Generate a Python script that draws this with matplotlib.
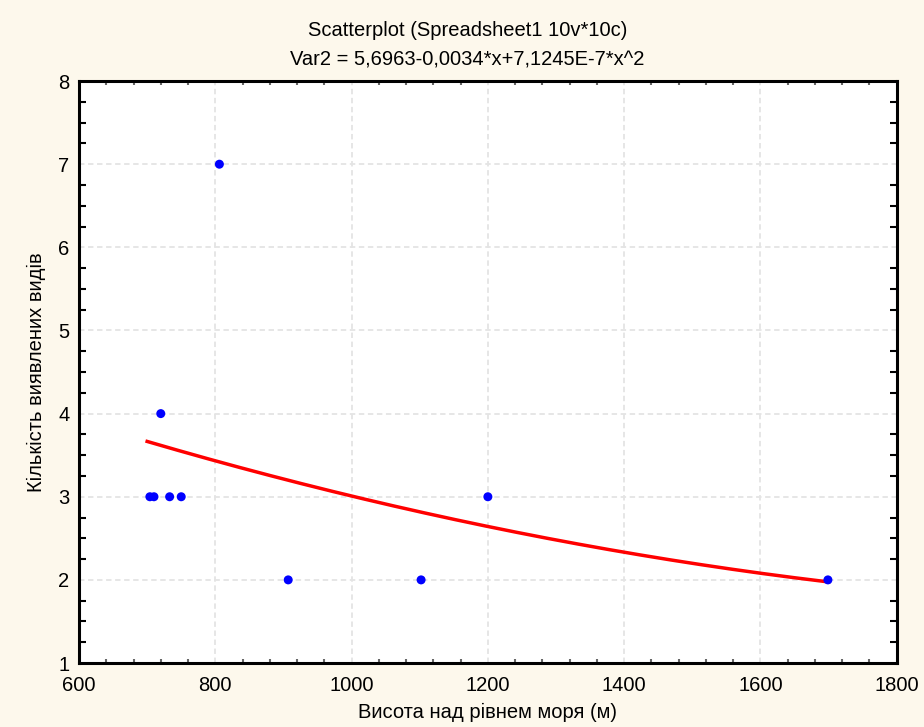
import numpy as np
import matplotlib
matplotlib.use("Agg")
import matplotlib.pyplot as plt
from matplotlib.ticker import MultipleLocator

# ---- data ----
altitude = [704, 710, 720, 733, 750, 806, 907, 1102, 1200, 1699]
species = [3, 3, 4, 3, 3, 7, 2, 2, 3, 2]
fit_coefs = [7.1245e-7, -0.0034, 5.6963]  # Var2 = 5,6963-0,0034*x+7,1245E-7*x^2
fit_range = [700, 1700]
title_lines = ["Scatterplot (Spreadsheet1 10v*10c)", "Var2 = 5,6963-0,0034*x+7,1245E-7*x^2"]
x_label = "Висота над рівнем моря (м)"
y_label = "Кількість виявлених видів"

plt.rcParams["font.family"] = ["Liberation Sans", "DejaVu Sans"]

fig = plt.figure(figsize=(9.24, 7.27), dpi=100)
fig.patch.set_facecolor("#fdf8ec")
ax = fig.add_axes([0.0855, 0.088, 0.885, 0.8005])
ax.set_facecolor("white")

ax.set_xlim(600, 1800)
ax.set_ylim(1, 8)
ax.xaxis.set_major_locator(MultipleLocator(200))
ax.xaxis.set_minor_locator(MultipleLocator(40))
ax.yaxis.set_major_locator(MultipleLocator(1))
ax.yaxis.set_minor_locator(MultipleLocator(0.25))

ax.grid(True, which="major", color="#e4e4e4", linestyle=(0, (3, 2)), linewidth=1.3)
ax.set_axisbelow(True)

for s in ax.spines.values():
    s.set_linewidth(2.2)
    s.set_color("black")

ax.tick_params(which="both", direction="in", top=True, right=True)
ax.tick_params(which="major", length=0, labelsize=14.5)
ax.tick_params(axis="x", which="major", pad=9)
ax.tick_params(axis="y", which="major", pad=7)
ax.tick_params(axis="y", which="minor", length=5, width=1.5, color="black")
ax.tick_params(axis="x", which="minor", length=3, width=1.5, color="#666666")

xs = np.linspace(fit_range[0], fit_range[1], 200)
ax.plot(xs, np.polyval(fit_coefs, xs), color="#ff0000", linewidth=2.5, zorder=3)
ax.scatter(altitude, species, s=42, color="#0000ff", edgecolors="none", zorder=4)

ax.set_xlabel(x_label, fontsize=14.5, labelpad=6)
ax.set_ylabel(y_label, fontsize=14.5, labelpad=9)

fig.text(0.506, 1 - 30 / 727, title_lines[0], ha="center", va="center", fontsize=14.5)
fig.text(0.506, 1 - 60 / 727, title_lines[1], ha="center", va="center", fontsize=14.5)

fig.savefig("out.png", dpi=100, facecolor=fig.get_facecolor())
